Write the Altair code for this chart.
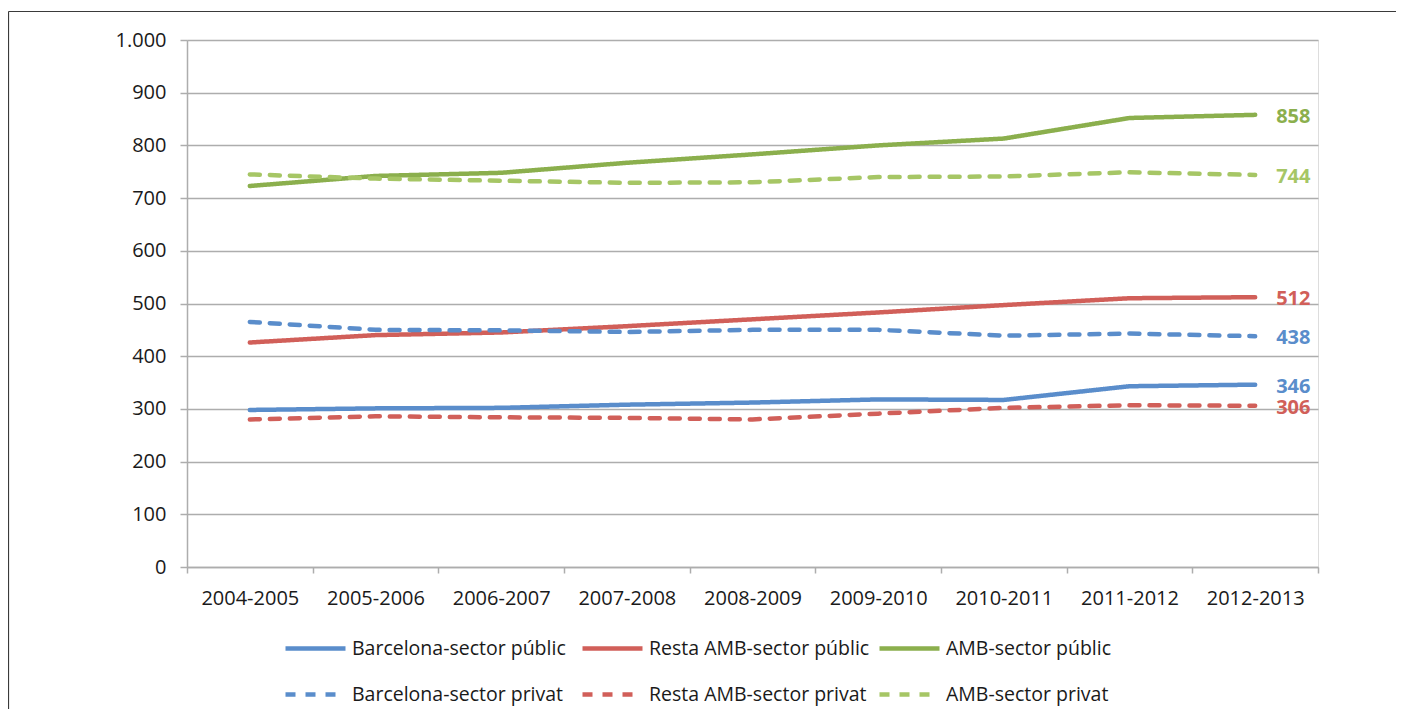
import altair as alt
import pandas as pd

periods = ["2004-2005", "2005-2006", "2006-2007", "2007-2008", "2008-2009",
           "2009-2010", "2010-2011", "2011-2012", "2012-2013"]

bcn_public = [298, 301, 302, 308, 312, 318, 317, 343, 346]
resta_public = [426, 440, 445, 457, 470, 483, 497, 510, 512]
amb_public = [723, 742, 748, 767, 783, 800, 813, 852, 858]
bcn_privat = [465, 450, 449, 446, 450, 450, 439, 443, 438]
resta_privat = [280, 286, 284, 283, 280, 291, 302, 307, 306]
amb_privat = [745, 737, 733, 729, 730, 740, 741, 749, 744]

series_names = ["Barcelona-sector públic", "Resta AMB-sector públic", "AMB-sector públic",
                "Barcelona-sector privat", "Resta AMB-sector privat", "AMB-sector privat"]
series_values = [bcn_public, resta_public, amb_public, bcn_privat, resta_privat, amb_privat]
colors = ["#5A8DCB", "#D15F59", "#8BAF4D", "#5A8DCB", "#D15F59", "#A6C665"]
dashes = [[1, 0], [1, 0], [1, 0], [10, 10], [10, 10], [10, 10]]

rows = []
for name, vals in zip(series_names, series_values):
    for p, v in zip(periods, vals):
        rows.append({"period": p, "series": name, "value": v})
df = pd.DataFrame(rows)

FONT = "Open Sans"
GRID = "#ADADAD"

x_enc = alt.X(
    "period:N", sort=periods,
    scale=alt.Scale(type="band", paddingInner=0, paddingOuter=0),
    axis=alt.Axis(title=None, labelAngle=0, tickBand="extent", grid=False,
                  domainColor=GRID, domainWidth=1.5, tickColor=GRID, tickWidth=1.5,
                  tickSize=6, labelPadding=15, labelFontSize=20, labelFont=FONT,
                  labelColor="#1a1a1a"),
)
y_enc = alt.Y(
    "value:Q", scale=alt.Scale(domain=[0, 1000], nice=False),
    axis=alt.Axis(title=None, values=list(range(0, 1001, 100)),
                  labelExpr="replace(format(datum.value, ','), ',', '.')",
                  grid=True, gridColor=GRID, gridWidth=1.5,
                  domainColor=GRID, domainWidth=1.5, tickColor=GRID, tickWidth=1.5,
                  tickSize=7, labelPadding=14, labelFontSize=20, labelFont=FONT,
                  labelColor="#1a1a1a"),
)

legend = alt.Legend(
    title=None, orient="none", legendX=96, legendY=576, columns=3, direction="horizontal",
    symbolType="stroke", symbolSize=3600, symbolStrokeWidth=4.5, gridAlign="all",
    labelFontSize=19.5, labelFont=FONT, labelColor="#1a1a1a", labelOffset=4, labelLimit=0,
    columnPadding=0, rowPadding=4, padding=0,
)

base = alt.Chart(df)

lines = base.mark_line(strokeWidth=4.5, strokeCap="round").encode(
    x=x_enc,
    y=y_enc,
    color=alt.Color("series:N", scale=alt.Scale(domain=series_names, range=colors), legend=legend),
    strokeDash=alt.StrokeDash("series:N", scale=alt.Scale(domain=series_names, range=dashes), legend=legend),
)

labels = base.transform_filter(
    alt.datum.period == periods[-1]
).mark_text(align="left", baseline="middle", dx=21, dy=2, fontSize=20, fontWeight="bold", font=FONT).encode(
    x=alt.X("period:N", sort=periods),
    y=alt.Y("value:Q"),
    text=alt.Text("value:Q"),
    color=alt.Color("series:N", scale=alt.Scale(domain=series_names, range=colors), legend=None),
)

frame_df = pd.DataFrame({"f": [0]})
frame_left = alt.Chart(frame_df).mark_rule(stroke="#3a3a3a", strokeWidth=1.2).encode(
    x=alt.value(-178.5), y=alt.value(-28.5), y2=alt.value(700)
)
frame_top = alt.Chart(frame_df).mark_rule(stroke="#3a3a3a", strokeWidth=1.2).encode(
    x=alt.value(-178.5), x2=alt.value(1215), y=alt.value(-28.5)
)

chart = alt.layer(frame_left, frame_top, lines, labels).properties(
    width=1131, height=527,
    autosize=alt.AutoSizeParams(type="none"),
    padding={"left": 179, "top": 32, "right": 78, "bottom": 142},
).configure_view(stroke=None).configure(font=FONT)

chart.save("out.html", embed_options={"renderer": "svg", "actions": False})
